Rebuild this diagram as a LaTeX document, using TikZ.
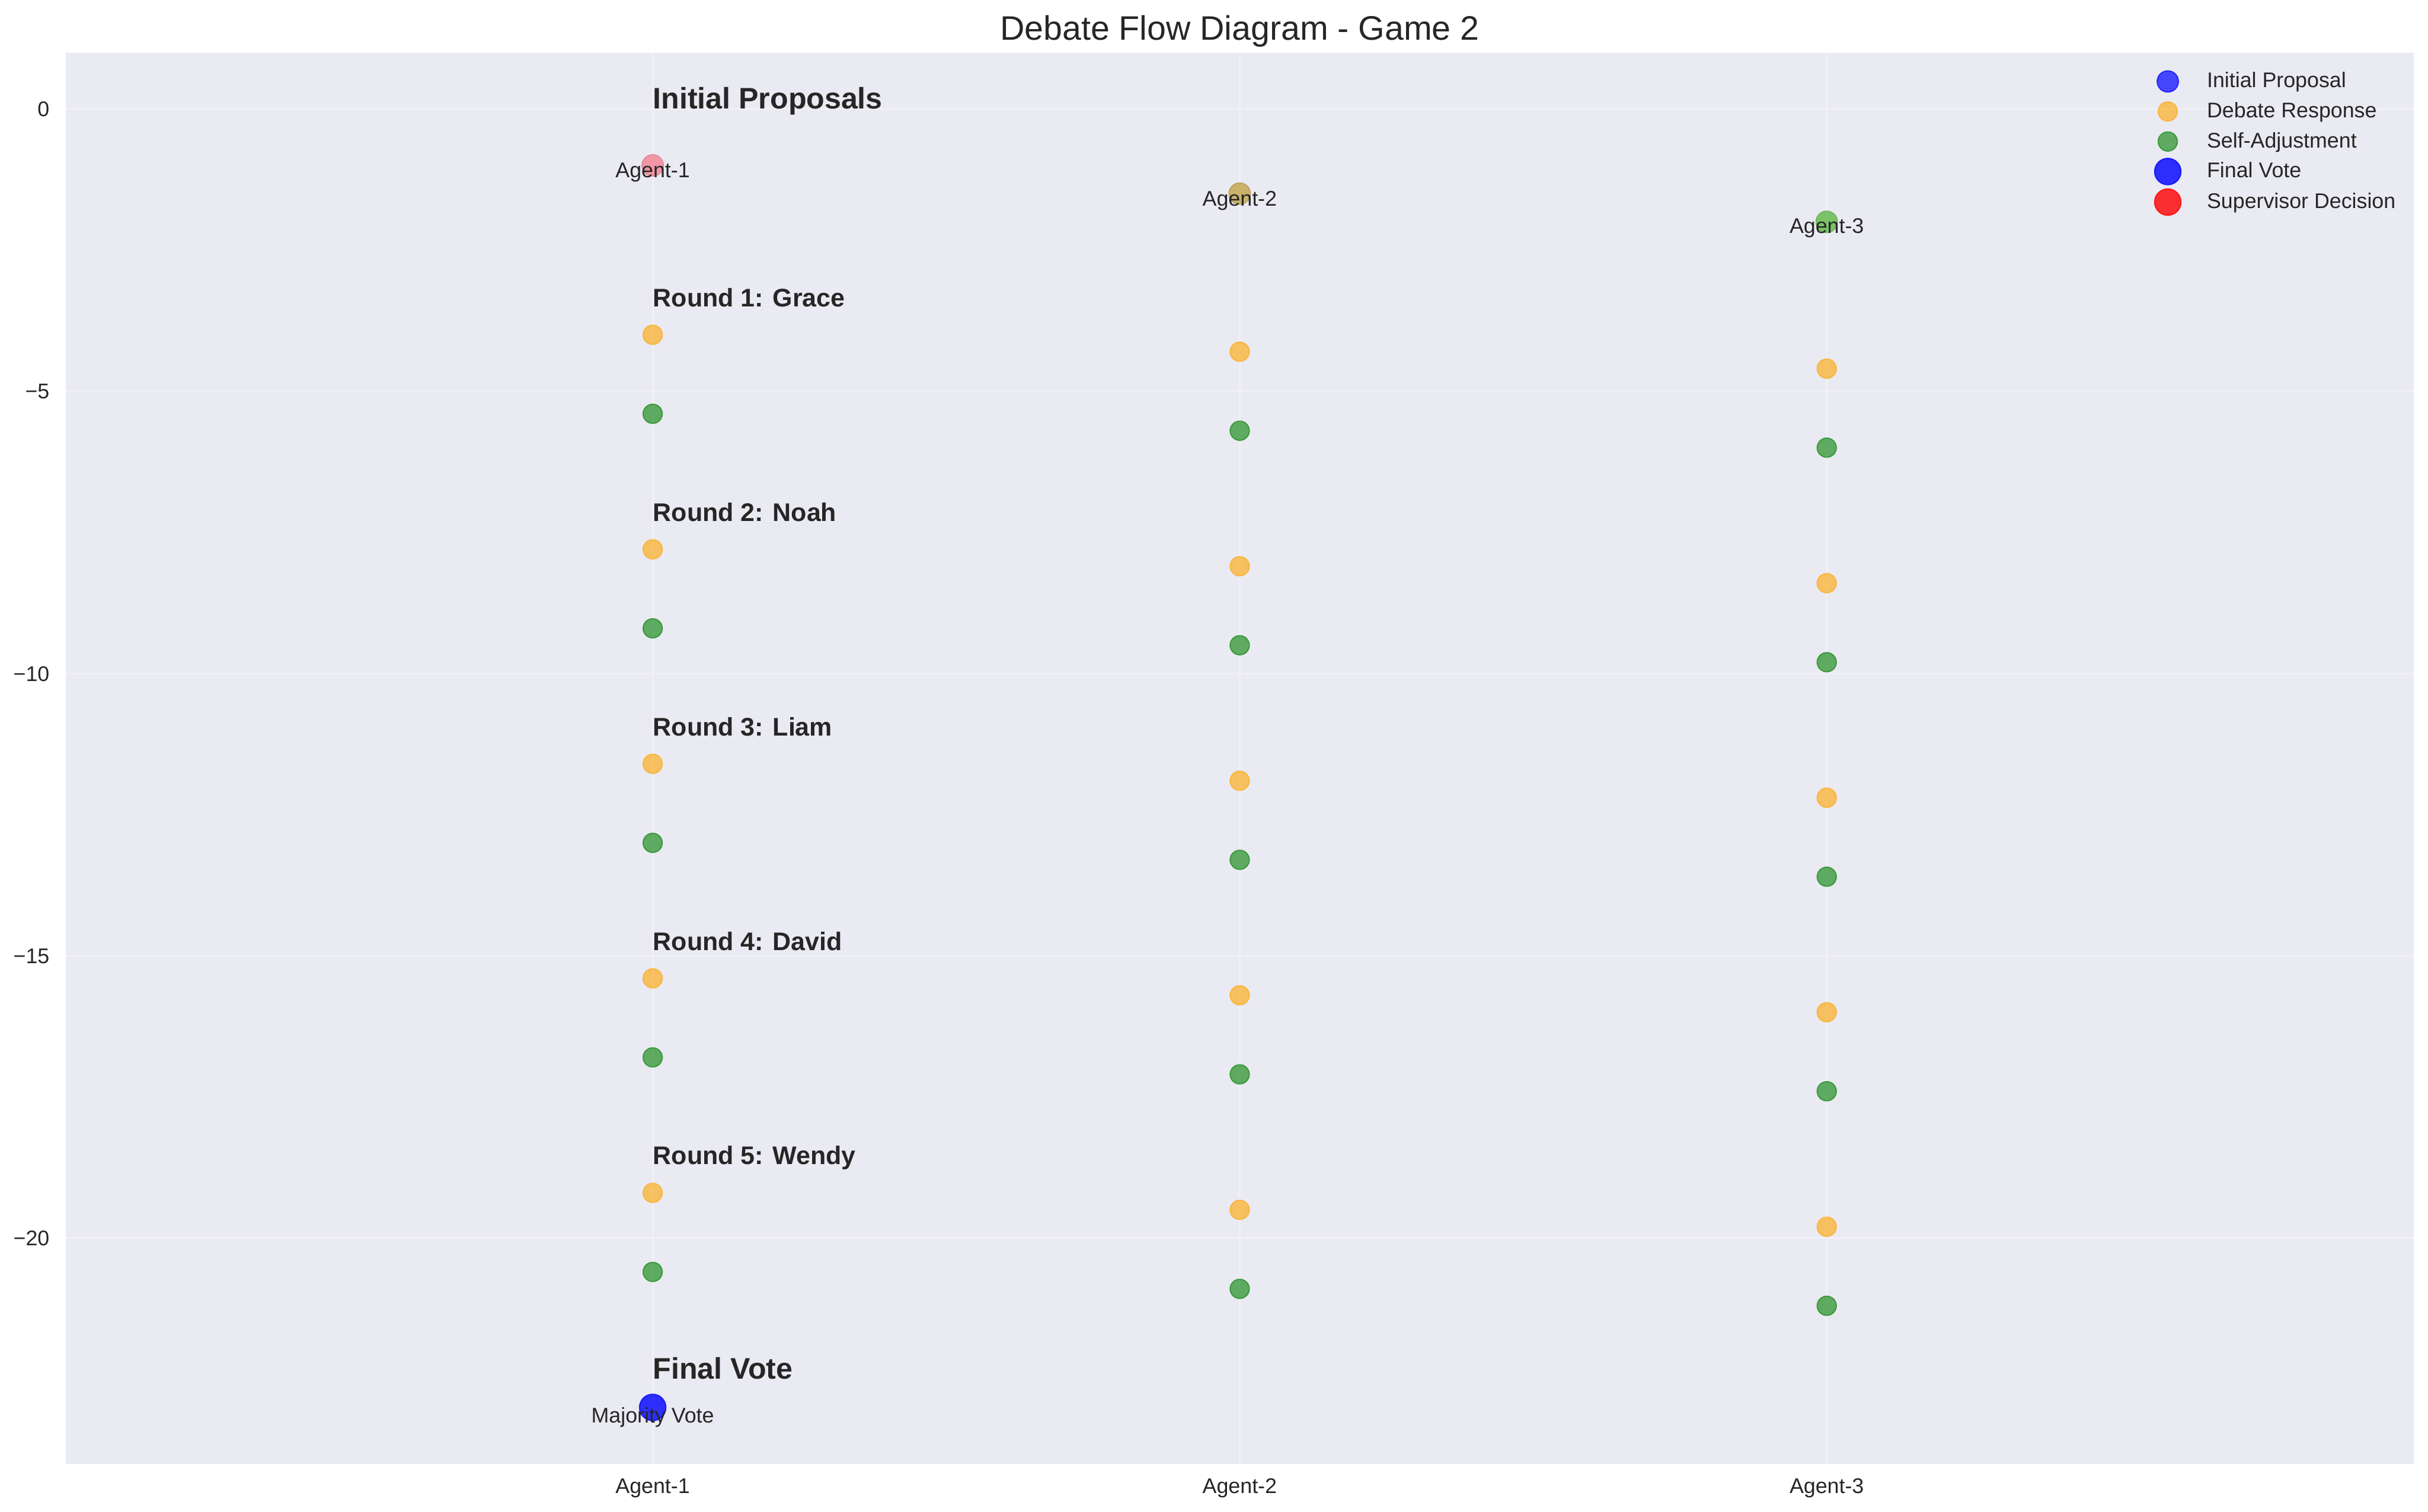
\documentclass[tikz,border=0pt]{standalone}
\usepackage{fontspec}
\setmainfont{Liberation Sans}
\definecolor{bg}{HTML}{EAEAF2}
\definecolor{gridc}{RGB}{240,240,246}
\definecolor{txt}{HTML}{262626}
\definecolor{mpor}{RGB}{255,165,0}
\definecolor{mpgr}{RGB}{0,128,0}
\definecolor{mpbl}{RGB}{0,0,255}
\definecolor{mprd}{RGB}{255,0,0}
\definecolor{pinkdot}{RGB}{242,150,166}
\definecolor{tandot}{RGB}{202,178,106}
\definecolor{greendot}{RGB}{124,194,104}
\begin{document}
\begin{tikzpicture}[x=276.72pt,y=26.616pt,
  every node/.style={text=txt,inner sep=0pt},
  dot/.style={circle,inner sep=0pt,minimum size=9.12pt,line width=0.5pt},
  resp/.style={dot,fill=mpor,draw=mpor,fill opacity=0.6,draw opacity=0.6},
  adj/.style={dot,fill=mpgr,draw=mpgr,fill opacity=0.6,draw opacity=0.6},
  initp/.style={dot,minimum size=10.08pt,fill=mpbl,draw=mpbl,fill opacity=0.7,draw opacity=0.7},
  vote/.style={dot,minimum size=12.48pt,fill=mpbl,draw=mpbl,fill opacity=0.8,draw opacity=0.8},
  sup/.style={dot,minimum size=12.48pt,fill=mprd,draw=mprd,fill opacity=0.8,draw opacity=0.8},
  ann/.style={font=\fontsize{10}{12}\selectfont,anchor=base},
  phase/.style={font=\fontsize{12}{14}\selectfont\bfseries,anchor=base west},
  bigphase/.style={font=\fontsize{14}{17}\selectfont\bfseries,anchor=base west},
  tick/.style={font=\fontsize{10}{12}\selectfont},
  legtext/.style={font=\fontsize{10}{12}\selectfont,anchor=base west},
  gridline/.style={draw=gridc,line width=0.8pt}
]
\useasboundingbox (-1.1119,-24.851) rectangle (3.0243,1.9297);
\fill[white] (-1.1119,-24.851) rectangle (3.0243,1.9297);
\fill[bg] (-1,-24) rectangle (3,1);
% grid
\foreach \gx in {0,1,2} \draw[gridline] (\gx,-24) -- (\gx,1);
\foreach \gy in {0,-5,-10,-15,-20} \draw[gridline] (-1,\gy) -- (3,\gy);
% title
\node[font=\fontsize{16}{19}\selectfont,anchor=base] (title) at (1,1.217) {Debate Flow Diagram - Game 2};
% y ticks
\foreach \v/\lab in {0/0,-5/−5,-10/−10,-15/−15,-20/−20}
  \node[tick,anchor=base east] (yt\v) at (-1.027,\v-0.135) {\lab};
% x ticks
\node[tick,anchor=base] (xt1) at (0,-24.518) {Agent-1};
\node[tick,anchor=base] (xt2) at (1,-24.518) {Agent-2};
\node[tick,anchor=base] (xt3) at (2,-24.518) {Agent-3};
% initial proposals
\node[dot,minimum size=10.08pt,fill=pinkdot,draw=pinkdot!92!black] (ip1) at (0,-1.0) {};
\node[dot,minimum size=10.08pt,fill=tandot,draw=tandot!92!black] (ip2) at (1,-1.5) {};
\node[dot,minimum size=10.08pt,fill=greendot,draw=greendot!92!black] (ip3) at (2,-2.0) {};
\node[ann] (ipl1) at (0,-1.21) {Agent-1};
\node[ann] (ipl2) at (1,-1.715) {Agent-2};
\node[ann] (ipl3) at (2,-2.205) {Agent-3};
\node[bigphase] (lblinit) at (0,0) {Initial Proposals};
% rounds
\foreach \r in {1,...,5}
  \foreach \i in {0,1,2} {
    \pgfmathsetmacro\yr{-4-3.8*(\r-1)-0.3*\i}
    \pgfmathsetmacro\ya{\yr-1.4}
    \node[resp] (resp\r-\i) at (\i,\yr) {};
    \node[adj] (adj\r-\i) at (\i,\ya) {};
  }
\node[phase] (lblr1) at (0,-3.5) {Round 1: Grace};
\node[phase] (lblr2) at (0,-7.3) {Round 2: Noah};
\node[phase] (lblr3) at (0,-11.1) {Round 3: Liam};
\node[phase] (lblr4) at (0,-14.9) {Round 4: David};
\node[phase] (lblr5) at (0,-18.7) {Round 5: Wendy};
% final vote
\node[vote] (fv) at (0,-23.0) {};
\node[ann] (fvl) at (0,-23.27) {Majority Vote};
\node[bigphase] (lblfinal) at (0,-22.5) {Final Vote};
% legend
\node[initp] (lg1) at (2.581,0.487) {};
\node[resp] (lg2) at (2.581,-0.045) {};
\node[adj] (lg3) at (2.581,-0.577) {};
\node[vote] (lg4) at (2.581,-1.109) {};
\node[sup] (lg5) at (2.581,-1.650) {};
\node[legtext] (lt1) at (2.647,0.487-0.108) {Initial Proposal};
\node[legtext] (lt2) at (2.647,-0.045-0.108) {Debate Response};
\node[legtext] (lt3) at (2.647,-0.577-0.108) {Self-Adjustment};
\node[legtext] (lt4) at (2.647,-1.109-0.108) {Final Vote};
\node[legtext] (lt5) at (2.647,-1.650-0.108) {Supervisor Decision};
\end{tikzpicture}
\end{document}
